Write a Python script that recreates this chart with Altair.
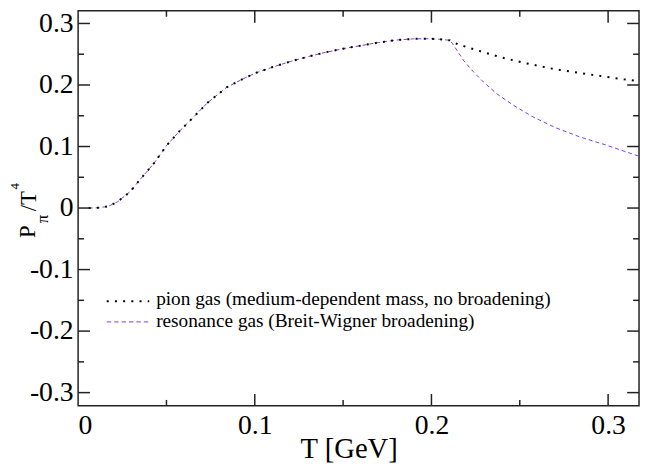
import altair as alt
import pandas as pd

# ---- data ----
T_common = [0.006, 0.012, 0.0173, 0.0225, 0.0294, 0.035, 0.043, 0.0499, 0.0574, 0.063,
            0.0732, 0.084, 0.092, 0.1, 0.11, 0.12, 0.13, 0.14, 0.15, 0.16, 0.17, 0.18,
            0.19, 0.2, 0.206, 0.2106]
P_common = [0.0, 0.0005, 0.003, 0.0105, 0.0265, 0.046, 0.073, 0.101, 0.125, 0.141,
            0.171, 0.196, 0.208, 0.219, 0.229, 0.238, 0.246, 0.253, 0.259, 0.264, 0.269, 0.273,
            0.275, 0.2752, 0.274, 0.2725]

T_pion_tail = [0.215, 0.2287, 0.238, 0.2523, 0.27, 0.29, 0.3078, 0.3178]
P_pion_tail = [0.266, 0.254, 0.246, 0.236, 0.2255, 0.217, 0.2095, 0.206]

T_res_tail = [0.2128, 0.2184, 0.224, 0.2296, 0.237, 0.2464, 0.2575, 0.2706, 0.2836, 0.2985, 0.3178]
P_res_tail = [0.2635, 0.239, 0.2206, 0.2045, 0.1857, 0.167, 0.148, 0.1302, 0.116, 0.1027, 0.0839]

x_tick_labels = [0, 0.1, 0.2, 0.3]
x_major = [0.1, 0.2, 0.3]
x_minor = [0.05, 0.15, 0.25]
y_tick_labels = [-0.3, -0.2, -0.1, 0, 0.1, 0.2, 0.3]
y_major = [-0.3, -0.2, -0.1, 0, 0.1, 0.2, 0.3]
y_minor = [-0.25, -0.15, -0.05, 0.05, 0.15, 0.25]
series_names = ["pion gas (medium-dependent mass, no broadening)",
                "resonance gas (Breit-Wigner broadening)"]
x_title = "T [GeV]"

# ---- styling ----
W, H = 568, 400
FONT = "Liberation Serif"
FRAME = "#222222"
PURPLE = "#7b3fd8"
MAJ, MIN = 12, 6
LABEL_SIZE = 28

xs = alt.Scale(domain=[0, 0.3175], nice=False, zero=False)
ys = alt.Scale(domain=[-0.3215, 0.3205], nice=False, zero=False)

x_axis = alt.Axis(
    values=x_tick_labels, ticks=False, domain=False, grid=False,
    labelExpr="toString(round(datum.value*10)/10)",
    labelFont=FONT, labelFontSize=LABEL_SIZE, labelColor="black",
    labelPadding=6, title=x_title, titleX=274, titleY=52,
    titleFont=FONT, titleFontSize=29, titleFontWeight="normal", titleColor="black",
    titleBaseline="alphabetic", titleAnchor="middle", titleAlign="center")
y_axis = alt.Axis(
    values=y_tick_labels, ticks=False, domain=False, grid=False,
    labelExpr="toString(round(datum.value*10)/10)",
    labelFont=FONT, labelFontSize=LABEL_SIZE, labelColor="black",
    labelPadding=5, labelBaseline="middle", title=None)

pion_df = pd.DataFrame({"T": T_common + T_pion_tail, "P": P_common + P_pion_tail})
res_df = pd.DataFrame({"T": T_common + T_res_tail, "P": P_common + P_res_tail})

res_line = alt.Chart(res_df).mark_line(
    color=PURPLE, strokeWidth=1, strokeDash=[4, 3], clip=True
).encode(
    x=alt.X("T:Q", scale=xs, axis=x_axis),
    y=alt.Y("P:Q", scale=ys, axis=y_axis),
)

pion_line = alt.Chart(pion_df).mark_line(
    color="black", strokeWidth=2, strokeDash=[2, 6.3], clip=True
).encode(
    x=alt.X("T:Q", scale=xs, axis=x_axis),
    y=alt.Y("P:Q", scale=ys, axis=y_axis),
)


def xticks(vals, length, top):
    df = pd.DataFrame({"T": vals})
    if top:
        yy, yy2 = alt.value(0), alt.value(length)
    else:
        yy, yy2 = alt.value(H), alt.value(H - length)
    return alt.Chart(df).mark_rule(color=FRAME, strokeWidth=1.5).encode(
        x=alt.X("T:Q", scale=xs, axis=x_axis), y=yy, y2=yy2)


def yticks(vals, length, right):
    df = pd.DataFrame({"P": vals})
    if right:
        xx, xx2 = alt.value(W), alt.value(W - length)
    else:
        xx, xx2 = alt.value(0), alt.value(length)
    return alt.Chart(df).mark_rule(color=FRAME, strokeWidth=1.5).encode(
        y=alt.Y("P:Q", scale=ys, axis=y_axis), x=xx, x2=xx2)


ticks = [
    xticks(x_major, MAJ, False), xticks(x_minor, MIN, False),
    xticks(x_major, MAJ, True), xticks(x_minor, MIN, True),
    yticks(y_major, MAJ, False), yticks(y_minor, MIN, False),
    yticks(y_major, MAJ, True), yticks(y_minor, MIN, True),
]


def txt(s, x, y, size, angle=0):
    return alt.Chart(pd.DataFrame({"s": [s]})).mark_text(
        font=FONT, fontSize=size, color="black", align="left",
        baseline="alphabetic", angle=angle
    ).encode(text="s:N", x=alt.value(x), y=alt.value(y))


# y-axis title P_pi / T^4 built from pieces
ytitle = [
    txt("P", -44, 230, 23, 270),
    txt("π", -31, 215, 17, 270),
    txt("/T", -43, 203, 23, 270),
    txt("4", -60, 181, 13, 270),
]

# in-plot legend
leg_dot = alt.Chart(pd.DataFrame({"s": [series_names[0]]})).mark_rule(
    color="black", strokeWidth=2, strokeDash=[2, 6.3]
).encode(x=alt.value(29), x2=alt.value(72), y=alt.value(294))
leg_dash = alt.Chart(pd.DataFrame({"s": [series_names[1]]})).mark_rule(
    color=PURPLE, strokeWidth=1, strokeDash=[4.5, 3]
).encode(x=alt.value(29), x2=alt.value(72), y=alt.value(315))
legend = [leg_dot, leg_dash,
          txt(series_names[0], 79, 298, 19.5),
          txt(series_names[1], 79, 320, 19.5)]

chart = alt.layer(
    res_line, pion_line, *ticks, *ytitle, *legend
).properties(
    width=W, height=H,
    autosize=alt.AutoSizeParams(type="none"),
    padding={"left": 71, "top": 0, "right": 2, "bottom": 56},
).configure_view(
    stroke=FRAME, strokeWidth=1.5
)

chart.save("out.html", embed_options={"renderer": "svg", "actions": False})
